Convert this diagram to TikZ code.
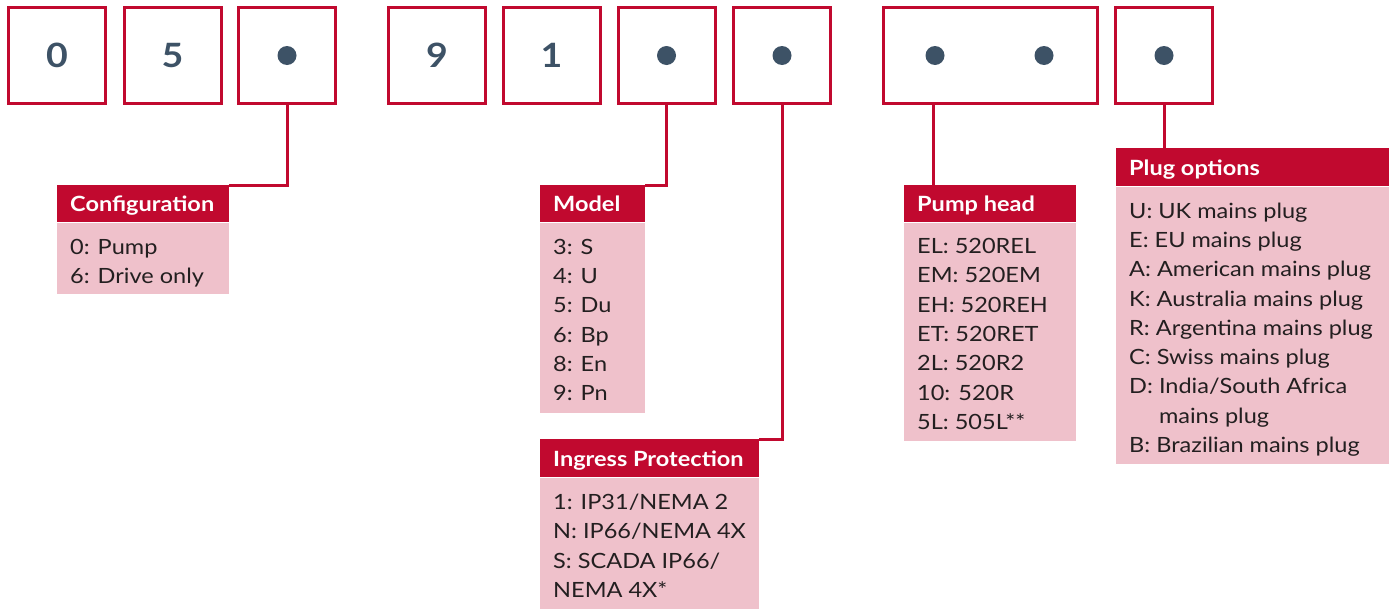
\documentclass[tikz,border=0pt]{standalone}
\usepackage{fontspec}
\setmainfont{Lato}[FakeStretch=1.12]
\definecolor{brand}{HTML}{C1092F}
\definecolor{pinkbg}{HTML}{EFC1CB}
\definecolor{slate}{HTML}{3D5266}
\definecolor{ink}{HTML}{231F20}
\newcommand{\firstline}{\rule{0pt}{20pt}}
\begin{document}
\begin{tikzpicture}[x=1pt,y=-1pt,
  codebox/.style={draw=brand, line width=3pt, minimum height=96pt, inner sep=0pt,
    font=\fontsize{33.5}{40}\selectfont\bfseries, text=slate},
  dotmark/.style={circle, fill=slate, minimum size=19pt, inner sep=0pt},
  conn/.style={draw=brand, line width=3pt},
  hdr/.style={fill=brand, anchor=north west, inner sep=0pt},
  bodyb/.style={fill=pinkbg, anchor=north west, inner sep=0pt},
  htext/.style={anchor=base west, inner sep=0pt, text=white, font=\fontsize{21}{25}\selectfont\bfseries},
  btext/.style={anchor=north west, inner sep=0pt, text=ink, align=left, font=\fontsize{21}{29.3}\selectfont}
]
\useasboundingbox (0,0) rectangle (1392,608);

% code boxes
\node[codebox, minimum width=97pt] (b1) at (57,55.5) {0};
\node[codebox, minimum width=97pt] (b2) at (172.5,55.5) {5};
\node[codebox, minimum width=97pt] (b3) at (287,55.5) {};
\node[codebox, minimum width=97pt] (b4) at (437,55.5) {9};
\node[codebox, minimum width=97pt] (b5) at (551.5,55.5) {1};
\node[codebox, minimum width=97pt] (b6) at (666.5,55.5) {};
\node[codebox, minimum width=97pt] (b7) at (782,55.5) {};
\node[codebox, minimum width=214pt] (b8) at (990,55.5) {};
\node[codebox, minimum width=97pt] (b9) at (1164,55.5) {};

\node[dotmark] (d3) at (b3.center) {};
\node[dotmark] (d6) at (b6.center) {};
\node[dotmark] (d7) at (b7.center) {};
\node[dotmark] (d8a) at (935,55.5) {};
\node[dotmark] (d8b) at (1044,55.5) {};
\node[dotmark] (d9) at (b9.center) {};

% Configuration
\node[hdr, minimum width=172pt, minimum height=37pt] (cfgH) at (57,185) {};
\node[bodyb, minimum width=172pt, minimum height=71pt] (cfgB) at (cfgH.south west) {};
\node[htext] (cfgT) at ([xshift=13pt,yshift=-8pt]cfgH.west) {Configuration};
\node[btext] (cfgL) at ([xshift=13pt,yshift=-11.5pt]cfgB.north west) {\firstline 0: Pump\\6: Drive only};

% Model
\node[hdr, minimum width=105pt, minimum height=37pt] (modH) at (540,185) {};
\node[bodyb, minimum width=105pt, minimum height=190pt] (modB) at (modH.south west) {};
\node[htext] (modT) at ([xshift=13pt,yshift=-8pt]modH.west) {Model};
\node[btext] (modL) at ([xshift=13pt,yshift=-11.5pt]modB.north west) {\firstline 3: S\\4: U\\5: Du\\6: Bp\\8: En\\9: Pn};

% Ingress Protection
\node[hdr, minimum width=219pt, minimum height=38pt] (ingH) at (540,439) {};
\node[bodyb, minimum width=219pt, minimum height=131pt] (ingB) at (ingH.south west) {};
\node[htext] (ingT) at ([xshift=13pt,yshift=-8pt]ingH.west) {Ingress Protection};
\node[btext] (ingL) at ([xshift=13pt,yshift=-12pt]ingB.north west) {\firstline 1: IP31/NEMA 2\\N: IP66/NEMA 4X\\S: SCADA IP66/\\NEMA 4X*};

% Pump head
\node[hdr, minimum width=172pt, minimum height=37pt] (pmpH) at (904,185) {};
\node[bodyb, minimum width=172pt, minimum height=218pt] (pmpB) at (pmpH.south west) {};
\node[htext] (pmpT) at ([xshift=13pt,yshift=-8pt]pmpH.west) {Pump head};
\node[btext] (pmpL) at ([xshift=13pt,yshift=-11pt]pmpB.north west) {\firstline EL: 520REL\\EM: 520EM\\EH: 520REH\\ET: 520RET\\2L: 520R2\\10: 520R\\5L: 505L**};

% Plug options
\node[hdr, minimum width=273pt, minimum height=38pt] (plgH) at (1116,148) {};
\node[bodyb, minimum width=273pt, minimum height=277pt] (plgB) at (plgH.south west) {};
\node[htext] (plgT) at ([xshift=13pt,yshift=-8pt]plgH.west) {Plug options};
\node[btext] (plgL) at ([xshift=13pt,yshift=-11.5pt]plgB.north west) {\firstline U: UK mains plug\\E: EU mains plug\\A: American mains plug\\K: Australia mains plug\\R: Argentina mains plug\\C: Swiss mains plug\\D: India/South Africa\\\phantom{D:\ }mains plug\\B: Brazilian mains plug};

% connectors
\draw[conn] (b3.south) |- (cfgH.north east);
\draw[conn] (b6.south) |- (modH.north east);
\draw[conn] (b7.south) |- (ingH.north east);
\coordinate (p8) at (933,103.5);
\draw[conn] (p8) -- (p8 |- pmpH.north);
\draw[conn] (b9.south) -- (b9.south |- plgH.north);
\end{tikzpicture}
\end{document}
